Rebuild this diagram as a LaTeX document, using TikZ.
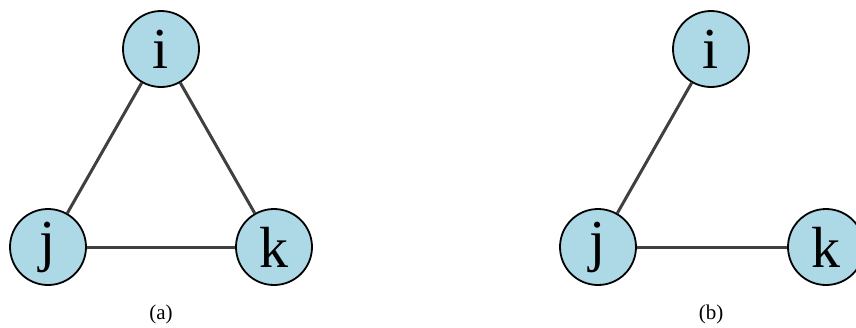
\documentclass[tikz,border=0pt]{standalone}
\usepackage{fontspec}
\setmainfont{Liberation Serif}
\definecolor{nodefill}{HTML}{ADD8E6}
\definecolor{edgegray}{HTML}{404040}
\begin{document}
\begin{tikzpicture}[x=1pt,y=-1pt,
  vertex/.style={circle,draw=black,line width=1.8pt,fill=nodefill,minimum size=76pt,inner sep=0pt,font=\fontsize{58}{58}\selectfont},
  edge/.style={draw=edgegray,line width=3pt},
  caption/.style={font=\fontsize{21}{21}\selectfont}]
\useasboundingbox (0,0) rectangle (856,327);
% triangle i-j-k
\node[vertex] (ai) at (161,49) {i};
\node[vertex] (aj) at (48,247) {j};
\node[vertex] (ak) at (274,247) {k};
% path i-j-k
\node[vertex] (bi) at (711,49) {i};
\node[vertex] (bj) at (598,247) {j};
\node[vertex] (bk) at (826,247) {k};
\draw[edge] (ai) -- (aj);
\draw[edge] (ai) -- (ak);
\draw[edge] (aj) -- (ak);
\draw[edge] (bi) -- (bj);
\draw[edge] (bj) -- (bk);
\node[caption] (capa) at (161,314) {(a)};
\node[caption] (capb) at (711,314) {(b)};
\end{tikzpicture}
\end{document}
